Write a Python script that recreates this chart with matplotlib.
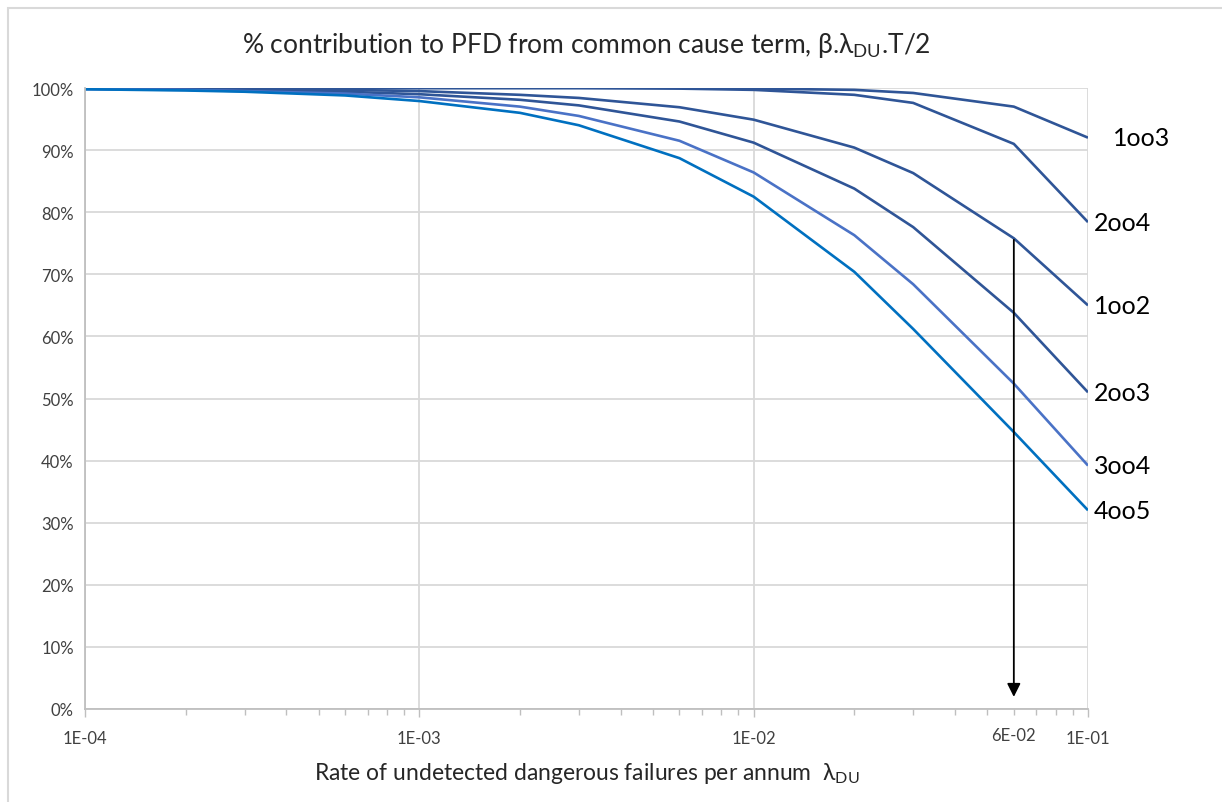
import matplotlib.pyplot as plt
import matplotlib.patches as mpatches
from matplotlib.ticker import FixedLocator, FuncFormatter

plt.rcParams['font.family'] = ['Lato', 'DejaVu Sans']
plt.rcParams['mathtext.fontset'] = 'custom'
plt.rcParams['mathtext.rm'] = 'Lato'

# rate of undetected dangerous failures per annum
lam = [1e-4, 2e-4, 3e-4, 6e-4, 1e-3, 2e-3, 3e-3, 6e-3, 1e-2, 2e-2, 3e-2, 6e-2, 1e-1]

# % contribution of the common cause term
pct_1oo3 = [100.0, 100.0, 100.0, 100.0, 100.0, 100.0, 100.0, 100.0, 99.9, 99.7, 99.2, 97.0, 92.0]
pct_2oo4 = [100.0, 100.0, 100.0, 100.0, 100.0, 100.0, 100.0, 99.9, 99.7, 98.9, 97.6, 91.0, 78.4]
pct_1oo2 = [99.9, 99.9, 99.8, 99.7, 99.5, 98.9, 98.4, 96.9, 94.9, 90.4, 86.3, 75.8, 65.0]
pct_2oo3 = [99.9, 99.8, 99.7, 99.4, 99.0, 98.1, 97.2, 94.6, 91.2, 83.8, 77.6, 63.8, 51.0]
pct_3oo4 = [99.8, 99.7, 99.5, 99.1, 98.5, 97.0, 95.5, 91.5, 86.4, 76.3, 68.4, 52.4, 39.2]
pct_4oo5 = [99.8, 99.6, 99.4, 98.8, 97.9, 96.0, 94.0, 88.7, 82.5, 70.4, 61.2, 44.6, 32.0]

names = ['1oo3', '2oo4', '1oo2', '2oo3', '3oo4', '4oo5']
series = [pct_1oo3, pct_2oo4, pct_1oo2, pct_2oo3, pct_3oo4, pct_4oo5]
colors = ['#2F5597', '#2F5597', '#2F5597', '#2F5597', '#4A72C6', '#0070C0']

arrow_x = 6e-2
arrow_top = 76.0
arrow_bottom = 1.5

fig = plt.figure(figsize=(12.22, 8.03), dpi=100)
ax = fig.add_axes([85 / 1222, 1 - 710 / 803, (1088 - 85) / 1222, (710 - 89) / 803])

for name, vals, c in zip(names, series, colors):
    ax.plot(lam, vals, color=c, lw=1.9, solid_capstyle='butt', solid_joinstyle='round')
    dx = 18 if name == '1oo3' else 4
    ax.annotate(name, xy=(lam[-1], vals[-1]), xytext=(dx, 0), textcoords='offset points',
                ha='left', va='center', fontsize=18, color='black', annotation_clip=False)

ax.annotate('', xy=(arrow_x, arrow_bottom), xytext=(arrow_x, arrow_top),
            arrowprops=dict(arrowstyle='-|>', color='black', lw=1.3, mutation_scale=20))

ax.set_xscale('log')
ax.set_xlim(1e-4, 1e-1)
ax.set_ylim(0, 100)

ax.xaxis.set_major_locator(FixedLocator([1e-4, 1e-3, 1e-2, 1e-1]))
ax.xaxis.set_major_formatter(FuncFormatter(lambda v, p: f'{v:.0E}'))
minor = [k * 10.0 ** e for e in (-4, -3, -2) for k in range(2, 10)]
ax.xaxis.set_minor_locator(FixedLocator(minor))
ax.xaxis.set_minor_formatter(FuncFormatter(lambda v, p: '6E-02' if abs(v - 0.06) < 1e-6 else ''))

ax.set_yticks(range(0, 101, 10))
ax.set_yticklabels([f'{v}%' for v in range(0, 101, 10)])

ax.grid(True, which='major', color='#D9D9D9', lw=1.3)
ax.set_axisbelow(True)
for s in ['top', 'right']:
    ax.spines[s].set_visible(False)
for s in ['left', 'bottom']:
    ax.spines[s].set_color('#BFBFBF')
    ax.spines[s].set_linewidth(1.3)
ax.tick_params(axis='y', length=0, labelsize=12, colors='#404040', pad=8)
ax.tick_params(axis='x', which='major', length=6, width=1, color='#BFBFBF',
               labelsize=12, labelcolor='#404040', pad=9)
ax.tick_params(axis='x', which='minor', length=4, width=1, color='#BFBFBF',
               labelsize=12, labelcolor='#404040', pad=9)

ax.set_title(r'% contribution to PFD from common cause term, β.λ$_{\mathrm{DU}}$.T/2',
             fontsize=19, color='#262626', pad=26)
ax.set_xlabel(r'Rate of undetected dangerous failures per annum  λ$_{\mathrm{DU}}$',
              fontsize=16.5, color='#262626', labelpad=10)

# chart border
fig.patches.append(mpatches.Rectangle((8 / 1222, -0.05), 1.1, 1 - 9 / 803 + 0.05,
                                      transform=fig.transFigure, fill=False,
                                      edgecolor='#D9D9D9', lw=1.5))

fig.savefig('out.png', dpi=100)
